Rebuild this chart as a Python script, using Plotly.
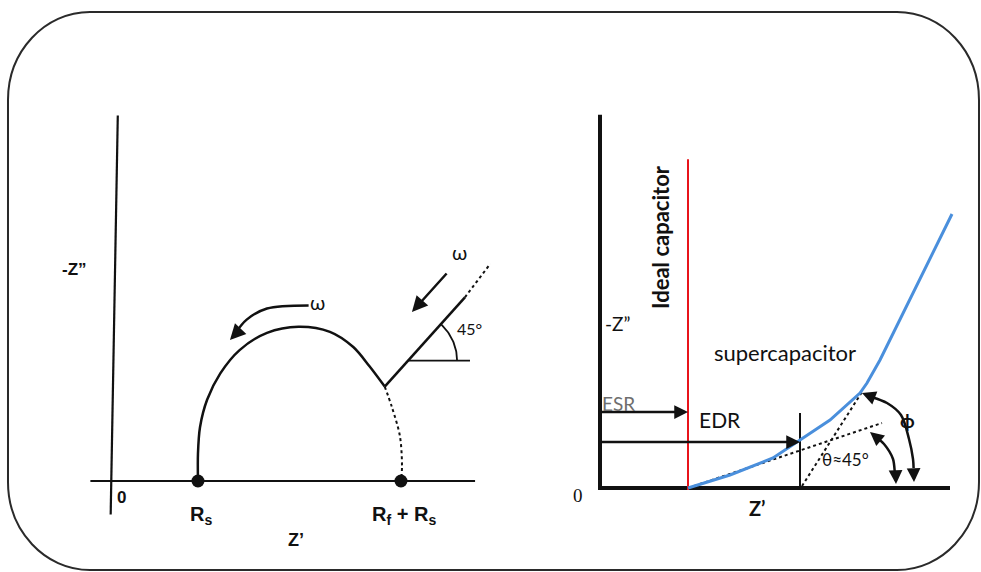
import numpy as np
import plotly.graph_objects as go

W, H = 981, 572

# ---------------- Left panel: Nyquist plot of a faradaic electrode ----------------
R_S = 0.85            # solution resistance
R_F = 2.00            # charge-transfer resistance
# high-frequency semicircle (solid part)
arc_x = [0.85, 0.85, 0.87, 0.94, 1.07, 1.26, 1.53, 1.84, 2.15, 2.38, 2.54, 2.69]
arc_y = [0.00, 0.27, 0.53, 0.80, 1.06, 1.29, 1.46, 1.52, 1.47, 1.32, 1.13, 0.93]
# hidden continuation of the semicircle down to Rf + Rs
arc_ext_x = [2.69, 2.76, 2.84, 2.86, 2.85]
arc_ext_y = [0.93, 0.73, 0.44, 0.14, 0.00]
# Warburg diffusion line and its extension
warb_x = [2.69, 3.48]
warb_y = [0.93, 1.81]
warb_ext_x = [3.48, 3.73]
warb_ext_y = [1.81, 2.14]
# frequency arrow over the semicircle
omega_arc_x = [1.94, 1.53, 1.33, 1.22]
omega_arc_y = [1.73, 1.70, 1.59, 1.46]
# axes of the left plot
l_zim_x = [0.06, -0.01]
l_zim_y = [3.60, -0.33]
l_zre_x = [-0.21, 3.58]
l_zre_y = [0.0, 0.0]
# 45 degree marker
ang_cx, ang_cy, ang_r, ang_deg = 2.92, 1.185, 0.483, 49
ang_base_x = [2.92, 3.53]

# ---------------- Right panel: ideal capacitor vs supercapacitor ----------------
ESR = 2.2
EDR = 5.0
ideal_y = [8.22, -0.05]
super_x = [2.2, 3.25, 4.325, 5.0, 5.75, 6.5, 6.675, 7.0, 8.8]
super_y = [0.0, 0.325, 0.75, 1.2, 1.7, 2.375, 2.625, 3.2, 6.85]
tan1_x = [2.2, 7.05]
tan1_y = [0.0, 1.625]
tan2_x = [5.05, 6.55]
tan2_y = [0.05, 2.4]
theta_x = [6.95, 7.1, 7.325, 7.375, 7.39]
theta_y = [1.23, 1.1, 0.725, 0.35, 0.3]
phi_x = [6.8, 7.175, 7.525, 7.725, 7.825, 7.84]
phi_y = [2.27, 2.125, 1.825, 1.225, 0.725, 0.5]
r_zim_x = [0.0, 0.0]
r_zim_y = [9.33, -0.05]
r_zre_x = [-0.05, 8.75]
r_zre_y = [0.0, 0.0]
esr_y = 1.9
edr_y = 1.15
edr_tick_y = [1.875, 0.0]

# ---------------- panel geometry (pixels) ----------------
SPLIT = 510
L_OX, L_OY, L_S = 111.7, 481.0, 101.5
R_OX, R_OY, R_S_PX = 600.0, 488.0, 40.0

fig = go.Figure()

BLACK = "#111111"
NARROW = "Liberation Sans Narrow, Arial Narrow, Liberation Sans, sans-serif"
CAL = "Lato, Open Sans, sans-serif"


def line(x, y, ax, w=2.5, color=BLACK, dash="solid", shape="linear"):
    fig.add_trace(go.Scatter(
        x=x, y=y, mode="lines", xaxis=ax[0], yaxis=ax[1],
        line=dict(color=color, width=w, dash=dash, shape=shape, smoothing=0.9),
        cliponaxis=False, hoverinfo="skip", showlegend=False))


LA = ("x", "y")
RA = ("x2", "y2")

# left plot
line(l_zim_x, l_zim_y, LA, w=2.2)
line(l_zre_x, l_zre_y, LA, w=2.2)
line(arc_x, arc_y, LA, w=2.5, shape="spline")
line(arc_ext_x, arc_ext_y, LA, w=2, dash="dot", shape="spline")
line(warb_x, warb_y, LA, w=2.5)
line(warb_ext_x, warb_ext_y, LA, w=2, dash="dot")
line(omega_arc_x, omega_arc_y, LA, w=2.5, shape="spline")
line(ang_base_x, [ang_cy, ang_cy], LA, w=1.8)
t = np.radians(np.linspace(0, ang_deg, 30))
line(list(ang_cx + ang_r * np.cos(t)), list(ang_cy + ang_r * np.sin(t)), LA, w=1.8)
fig.add_trace(go.Scatter(
    x=[R_S, R_S + R_F], y=[0, 0], mode="markers", xaxis="x", yaxis="y",
    marker=dict(size=13, color=BLACK), cliponaxis=False,
    hoverinfo="skip", showlegend=False))

# right plot
line(r_zim_x, r_zim_y, RA, w=4)
line(r_zre_x, r_zre_y, RA, w=4)
line([ESR, ESR], ideal_y, RA, w=2, color="#e8141b")
line([EDR, EDR], edr_tick_y, RA, w=2)
line(tan1_x, tan1_y, RA, w=2, dash="dot")
line(tan2_x, tan2_y, RA, w=2, dash="dot")
line(super_x, super_y, RA, w=3, color="#4a8fdc")
line(theta_x, theta_y, RA, w=2.5, shape="spline")
line(phi_x, phi_y, RA, w=2.5, shape="spline")


def arrow(x, y, ax, ay, axes, w=2.5, size=1.1):
    fig.add_annotation(
        x=x, y=y, ax=ax, ay=ay, xref=axes[0], yref=axes[1],
        axref=axes[0], ayref=axes[1], text="", showarrow=True,
        arrowhead=2, arrowsize=size, arrowwidth=w, arrowcolor=BLACK, standoff=0)


# left arrows
arrow(1.165, 1.389, 1.26, 1.49, LA, size=1.25)
arrow(2.958, 1.665, 3.313, 2.059, LA, size=1.25)
# right arrows
arrow(ESR, esr_y, 0.0, esr_y, RA)
arrow(EDR, edr_y, 0.0, edr_y, RA)
arrow(6.75, 1.4, 6.97, 1.22, RA)
arrow(7.4, 0.1, 7.39, 0.4, RA)
arrow(6.55, 2.375, 6.82, 2.27, RA)
arrow(7.85, 0.15, 7.84, 0.5, RA)


def label(x, y, text, axes, size=16, family=CAL, color=BLACK, weight="normal",
          angle=0, xanchor="center"):
    fig.add_annotation(
        x=x, y=y, xref=axes[0], yref=axes[1], text=text, showarrow=False,
        textangle=angle, xanchor=xanchor, yanchor="middle",
        font=dict(size=size, family=family, color=color, weight=weight))


# left labels
label(-0.37, 2.08, "-Z”", LA, size=17, family=NARROW, weight="bold")
label(0.10, -0.16, "0", LA, size=17, family=NARROW, weight="bold")
label(0.88, -0.34, "R<sub>s</sub>", LA, size=20, family=NARROW, weight="bold")
label(2.88, -0.34, "R<sub>f</sub> + R<sub>s</sub>", LA, size=20, family=NARROW, weight="bold")
label(1.82, -0.58, "Z’", LA, size=18, family=NARROW, weight="bold")
label(2.03, 1.76, "ω", LA, size=20)
label(3.43, 2.256, "ω", LA, size=20)
label(3.53, 1.50, "45°", LA, size=16)

# right labels
label(1.5, 6.275, "Ideal capacitor", RA, size=22, weight="bold", angle=-90)
label(0.425, 4.125, "-Z”", RA, size=19)
label(4.625, 3.4, "supercapacitor", RA, size=22)
label(0.45, 2.125, "ESR", RA, size=19, color="#6e6e6e")
label(3.0, 1.725, "EDR", RA, size=21)
label(7.675, 1.7, "ϕ", RA, size=19, weight="bold")
label(6.125, 0.725, "θ≈45°", RA, size=17)
label(-0.55, -0.175, "0", RA, size=19, family="Liberation Serif, serif")
label(3.925, -0.5, "Z’", RA, size=20, weight="bold")


# rounded outer frame (paper coordinates)
def frame_path(l, r, t, b, rx, ry):
    k = 0.5523
    P = lambda px, py: f"{px / W:.5f},{1 - py / H:.5f}"
    d = [f"M{P(l + rx, t)}", f"L{P(r - rx, t)}",
         f"C{P(r - rx + k * rx, t)} {P(r, t + ry - k * ry)} {P(r, t + ry)}",
         f"L{P(r, b - ry)}",
         f"C{P(r, b - ry + k * ry)} {P(r - rx + k * rx, b)} {P(r - rx, b)}",
         f"L{P(l + rx, b)}",
         f"C{P(l + rx - k * rx, b)} {P(l, b - ry + k * ry)} {P(l, b - ry)}",
         f"L{P(l, t + ry)}",
         f"C{P(l, t + ry - k * ry)} {P(l + rx - k * rx, t)} {P(l + rx, t)}", "Z"]
    return " ".join(d)


fig.add_shape(type="path", xref="paper", yref="paper",
              path=frame_path(8, 979, 12, 570, 82, 88),
              line=dict(color="#2a2a2a", width=2))

hidden = dict(visible=False, showgrid=False, zeroline=False, fixedrange=True)
fig.update_layout(
    width=W, height=H, margin=dict(l=0, r=0, t=0, b=0),
    paper_bgcolor="white", plot_bgcolor="white", showlegend=False,
    xaxis=dict(domain=[0, SPLIT / W],
               range=[(0 - L_OX) / L_S, (SPLIT - L_OX) / L_S], **hidden),
    yaxis=dict(domain=[0, 1], range=[(L_OY - H) / L_S, L_OY / L_S], **hidden),
    xaxis2=dict(domain=[SPLIT / W, 1],
                range=[(SPLIT - R_OX) / R_S_PX, (W - R_OX) / R_S_PX], **hidden),
    yaxis2=dict(domain=[0, 1], anchor="x2",
                range=[(R_OY - H) / R_S_PX, R_OY / R_S_PX], **hidden),
)

fig.write_html("out.html")
